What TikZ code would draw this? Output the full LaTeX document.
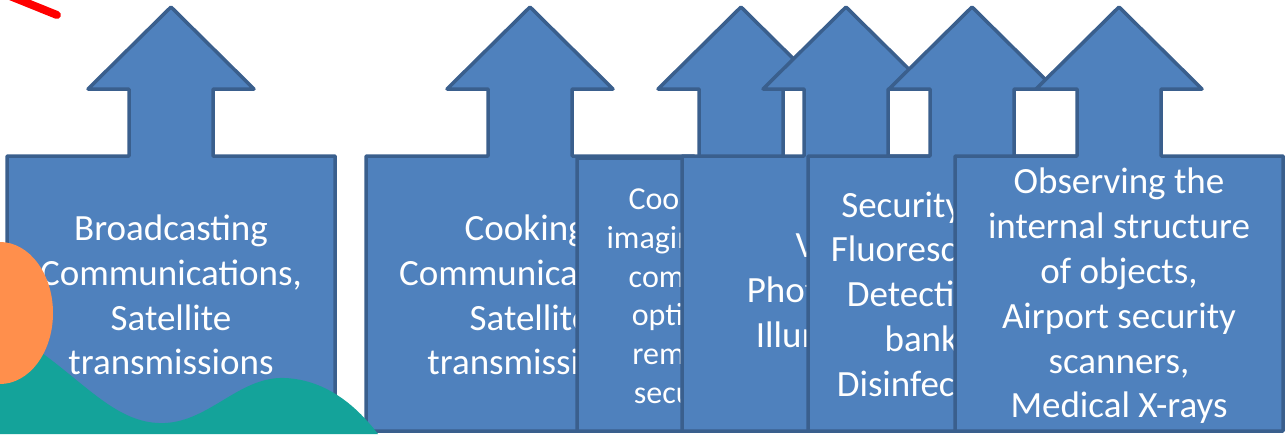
\documentclass[tikz,border=0pt]{standalone}
\usepackage{fontspec}
\setmainfont{Carlito}
\definecolor{boxfill}{HTML}{4F81BD}
\definecolor{boxline}{HTML}{3A5F8D}
\definecolor{wave}{HTML}{14A39A}
\definecolor{sun}{HTML}{FF8F4C}
\definecolor{slash}{HTML}{FF0000}
% upward arrow box: centre x, top of the box
\newcommand\upbox[2]{%
  \filldraw[arrowshape]
    (#1-164,431) -- (#1-164,#2) -- (#1-42,#2) -- (#1-42,89) -- (#1-83,89)
    -- (#1,7) -- (#1+83,89) -- (#1+42,89) -- (#1+42,#2) -- (#1+164,#2)
    -- (#1+164,431) -- cycle;}
\begin{document}
\begin{tikzpicture}[x=1pt,y=-1pt,
  arrowshape/.style={fill=boxfill,draw=boxline,line width=3.5pt,line join=round},
  bigtext/.style={text=white,align=center,inner sep=0pt,
    font=\fontsize{37}{44.8}\selectfont},
  smalltext/.style={text=white,align=center,inner sep=0pt,
    font=\fontsize{32}{38.8}\selectfont}]
\useasboundingbox (0,0) rectangle (1287,434);

% microwaves
\upbox{171}{156}
\node[bigtext] (micro) at (171,295) {Broadcasting\\Communications,\\Satellite\\transmissions};
% microwaves (second panel)
\upbox{530}{156}
\node[bigtext] (cook) at (530,295) {Cooking,\\Communications,\\Satellite\\transmissions};
% infrared
\upbox{741}{158}
\node[smalltext] (infra) at (740,298) {Cooking, thermal\\imaging, short range\\communications,\\optical fibres, TV\\remote controls,\\security systems};
% visible light
\upbox{846}{156}
\node[bigtext] (vis) at (846,290) {Vision,\\Photography,\\Illumination};
% ultraviolet
\upbox{972}{156}
\node[bigtext] (uv) at (972,297) {Security marking,\\Fluorescent lamps,\\Detecting forged\\bank notes,\\Disinfecting water};
% x-rays
\upbox{1119}{156}
\node[bigtext] (xray) at (1119,296) {Observing the\\internal structure\\of objects,\\Airport security\\scanners,\\Medical X-rays};

% decorative shapes in the corner
\fill[wave] (0,434) -- (0,338) .. controls (20,343) and (30,347) .. (42,353)
  .. controls (90,388) and (120,425) .. (165,423)
  .. controls (210,421) and (240,376) .. (285,378)
  .. controls (328,380) and (358,408) .. (378,434) -- cycle;
\fill[sun] (0,313) ellipse[x radius=53,y radius=71];
\draw[slash,line width=8pt,line cap=round] (0,-8) -- (57,15);
\end{tikzpicture}
\end{document}
